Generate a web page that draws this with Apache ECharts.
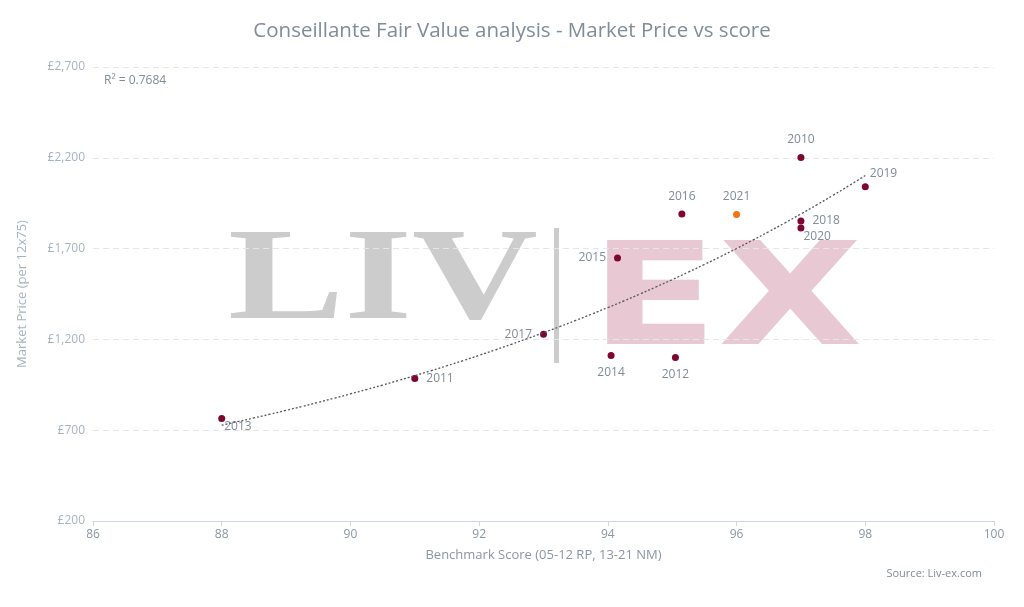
<!DOCTYPE html>
<html><head><meta charset="utf-8">
<script src="https://cdn.jsdelivr.net/npm/echarts@6/dist/echarts.min.js"></script>
<style>html,body{margin:0;background:#fff}#c{width:1024px;height:607px}</style>
</head><body><div id="c"></div>
<script>
const vintages = ['2013','2011','2017','2015','2014','2012','2016','2021','2010','2018','2020','2019'];
const scores   = [88, 91, 93, 94.15, 94.05, 95.05, 95.15, 96, 97, 97, 97, 98];
const prices   = [765, 985, 1228, 1648, 1112, 1100, 1890, 1888, 2202, 1852, 1813, 2040];
const labelPos = ['bottomRight','right','left','left','bottom','bottom','top','top','top','right','bottomRight','topRight'];
const highlight = '2021';

const n = scores.length;
let sx=0, sy=0, sxx=0, sxy=0;
scores.forEach((x,i)=>{const ly=Math.log(prices[i]); sx+=x; sy+=ly; sxx+=x*x; sxy+=x*ly;});
const b = (n*sxy - sx*sy)/(n*sxx - sx*sx), a = (sy - b*sx)/n;
const trend = [];
for (let x=88; x<=98.0001; x+=0.25) trend.push([x, Math.exp(a+b*x)]);

const posMap = {bottomRight:{position:[6,6]}, topRight:{position:[8,-16]}};
const pts = vintages.map((v,i)=>{
  const p = labelPos[i];
  const lab = posMap[p] ? Object.assign({show:true,formatter:v}, posMap[p]) : {show:true,formatter:v,position:p,distance:8};
  return {value:[scores[i],prices[i]], itemStyle:{color: v===highlight?'#f27313':'#7d0731', opacity:1}, label:lab};
});

const chart = echarts.init(document.getElementById('c'));
chart.setOption({
  animation:false,
  textStyle:{fontFamily:'Open Sans'},
  title:{text:'Conseillante Fair Value analysis - Market Price vs score', left:'center', top:16,
    textStyle:{color:'#7f8c99', fontSize:20.5, fontWeight:'normal', fontFamily:'Open Sans'}},
  grid:{left:93, right:30, top:67, bottom:86},
  xAxis:{type:'value', min:86, max:100, interval:2,
    name:'Benchmark Score (05-12 RP, 13-21 NM)', nameLocation:'middle', nameGap:28,
    nameTextStyle:{color:'#8a96a3', fontSize:13},
    axisLine:{lineStyle:{color:'#ccd6e0'}}, axisTick:{show:true,lineStyle:{color:'#ccd6e0'}},
    axisLabel:{color:'#8a96a3', fontSize:12}, splitLine:{show:false}},
  yAxis:{type:'value', min:200, max:2700, interval:500,
    name:'Market Price (per 12x75)', nameLocation:'middle', nameGap:64,
    nameTextStyle:{color:'#a6b4c2', fontSize:13},
    axisLine:{show:false}, axisTick:{show:false},
    axisLabel:{color:'#a6b4c2', fontSize:12, formatter:v=>'£'+v.toLocaleString('en-GB')},
    splitLine:{lineStyle:{color:'#e6e6e6', type:[6,4]}}},
  graphic:[
    {type:'text', x:228, y:218, scaleX:1.32, z:-1, style:{text:'LIV', font:'bold 132px "Liberation Serif"', fill:'#cccccc'}},
    {type:'rect', x:554, y:228, z:-1, shape:{width:5,height:135}, style:{fill:'#cccccc'}},
    {type:'text', x:590, y:236, scaleX:1.32, z:-1, style:{text:'EX', font:'900 142px "DejaVu Sans"', fill:'#e8c9d3'}},
    {type:'text', left:104, top:75, style:{text:'R² = 0.7684', font:'12px "Open Sans"', fill:'#7f8c99'}},
    {type:'text', right:42, top:568, style:{text:'Source: Liv-ex.com', font:'11px "Open Sans"', fill:'#7f8c99'}}
  ],
  series:[
    {type:'line', data:trend, showSymbol:false, smooth:true, silent:true,
     lineStyle:{color:'#555', width:1.3, type:[2,2]}},
    {type:'scatter', data:pts, symbolSize:7,
     label:{color:'#7f8c99', fontSize:12}}
  ]
});
</script></body></html>
